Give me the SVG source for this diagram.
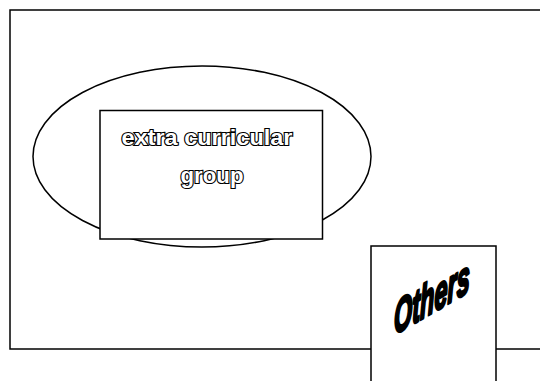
<svg xmlns="http://www.w3.org/2000/svg" width="540" height="381" viewBox="0 0 540 381">
<style>
.box{fill:#fff;stroke:#000;stroke-width:1.5}
.outline{font-family:"Liberation Sans",Arial,sans-serif;font-weight:bold;font-size:22px;fill:#fff;stroke:#000;stroke-width:2.2;paint-order:stroke;text-anchor:middle}
.slant{font-family:"Liberation Sans",Arial,sans-serif;font-weight:bold;font-style:italic;font-size:47px;fill:#000;stroke:#000;stroke-width:3;stroke-linejoin:round}
</style>
<rect width="540" height="381" fill="#fff"/>
<g id="frame"><rect class="box" x="10" y="10" width="540" height="339"/></g>
<g id="ellipse"><ellipse cx="202" cy="156.5" rx="169" ry="90.5" fill="#fff" stroke="#000" stroke-width="1.5"/></g>
<g id="extra-curricular-group">
<rect class="box" x="100" y="110.5" width="222.5" height="128.5"/>
<text class="outline" x="207" y="145" textLength="171" lengthAdjust="spacingAndGlyphs">extra curricular</text>
<text class="outline" x="212" y="183" textLength="63" lengthAdjust="spacingAndGlyphs">group</text>
</g>
<g id="others">
<rect class="box" x="371" y="246" width="125" height="145"/>
<text class="slant" transform="translate(394,335) skewY(-30) scale(0.5,1)">Others</text>
</g>
<g id="connectors"></g>
</svg>
